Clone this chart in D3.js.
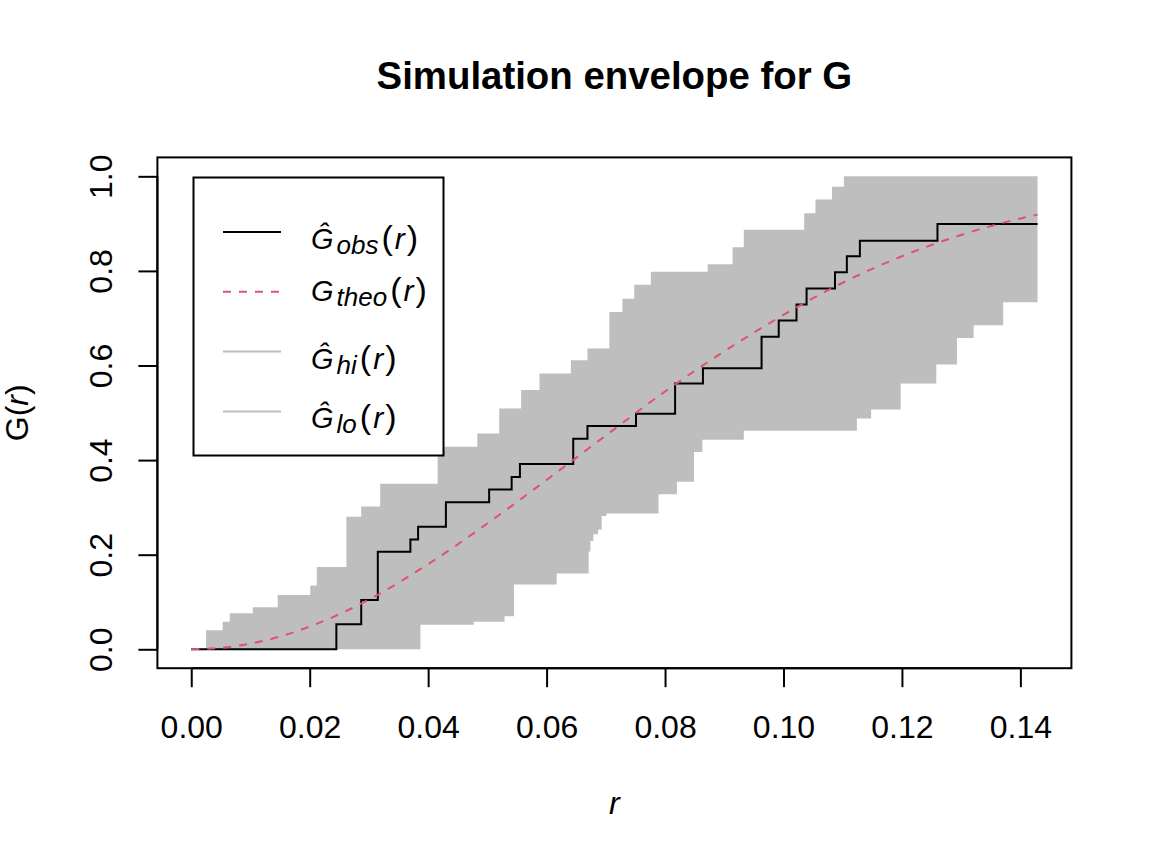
<!DOCTYPE html>
<html>
<head>
<meta charset="utf-8">
<script src="https://cdn.jsdelivr.net/npm/d3@7"></script>
<style>
  html, body { margin: 0; padding: 0; background: #ffffff; }
  svg { display: block; }
  text { font-family: "Liberation Sans", Arial, Helvetica, sans-serif; fill: #000; }
</style>
</head>
<body>
<svg id="chart" width="1152" height="864"></svg>
<script>
// ---------------- data ----------------
const rEnd = 0.1429;

// observed G (step function: value holds from r until next r)
const obsR = [0, 0.0245, 0.0287, 0.0315, 0.0370, 0.0383, 0.0430, 0.0503, 0.0541, 0.0555,
              0.0645, 0.0669, 0.0751, 0.0817, 0.0864, 0.0963, 0.0992, 0.1022, 0.1039,
              0.1087, 0.1107, 0.1129, 0.1260, rEnd];
const obsG = [0, 0.053, 0.104, 0.206, 0.232, 0.259, 0.311, 0.338, 0.364, 0.392,
              0.445, 0.472, 0.498, 0.562, 0.594, 0.661, 0.695, 0.729, 0.763,
              0.797, 0.831, 0.864, 0.899, 0.899];

// theoretical G
const theoR = [0, 0.005, 0.01, 0.015, 0.02, 0.03, 0.04, 0.05, 0.06, 0.07, 0.08, 0.09,
               0.10, 0.11, 0.12, 0.13, 0.14, rEnd];
const theoG = [0, 0.003, 0.012, 0.027, 0.048, 0.105, 0.180, 0.266, 0.358, 0.452, 0.545,
               0.630, 0.707, 0.775, 0.831, 0.876, 0.911, 0.919];

// upper envelope (hi)
const hiR = [0, 0.0025, 0.0053, 0.0065, 0.0104, 0.0146, 0.0201, 0.0212, 0.0262, 0.0287,
             0.0319, 0.0416, 0.0483, 0.0520, 0.0557, 0.0588, 0.0641, 0.0669, 0.0706,
             0.0728, 0.0748, 0.0776, 0.0872, 0.0914, 0.0933, 0.1035, 0.1054, 0.1082,
             0.1102, rEnd];
const hiG = [0, 0.040, 0.058, 0.076, 0.089, 0.115, 0.135, 0.174, 0.280, 0.302,
             0.350, 0.428, 0.456, 0.509, 0.548, 0.583, 0.611, 0.636, 0.713,
             0.741, 0.771, 0.798, 0.814, 0.850, 0.887, 0.922, 0.951, 0.978,
             1.0, 1.0];

// lower envelope (lo)
const loR = [0, 0.0387, 0.0477, 0.0529, 0.0545, 0.0617, 0.0671, 0.0674, 0.0679, 0.0687,
             0.0693, 0.0701, 0.0789, 0.0820, 0.0849, 0.0863, 0.0933, 0.1124, 0.1148,
             0.1198, 0.1258, 0.1293, 0.1321, 0.1371, rEnd];
const loG = [0, 0.052, 0.058, 0.070, 0.137, 0.160, 0.207, 0.229, 0.243, 0.253,
             0.282, 0.287, 0.328, 0.354, 0.417, 0.443, 0.462, 0.488, 0.507,
             0.562, 0.602, 0.658, 0.685, 0.734, 0.734];

const xTickVals = [0, 0.02, 0.04, 0.06, 0.08, 0.10, 0.12, 0.14];
const xTickLabels = ["0.00", "0.02", "0.04", "0.06", "0.08", "0.10", "0.12", "0.14"];
const yTickVals = [0, 0.2, 0.4, 0.6, 0.8, 1.0];
const yTickLabels = ["0.0", "0.2", "0.4", "0.6", "0.8", "1.0"];

const titleText = "Simulation envelope for G";
const legendSubs = ["obs", "theo", "hi", "lo"];
const legendHat = [true, false, true, true];

// ---------------- layout ----------------
const svg = d3.select("#chart");
const L = 157.4, R = 1071.4, T = 157.4, B = 668.2;
const xPad = 0.04 * rEnd;
const x = d3.scaleLinear().domain([-xPad, rEnd + xPad]).range([L, R]);
const y = d3.scaleLinear().domain([-0.04, 1.04]).range([B, T]);
const GREY = "#BEBEBE", RED = "#DF536B";

// envelope polygon on the union of breakpoints
function stepAt(rs, gs, r) {
  const i = Math.max(0, d3.bisectRight(rs, r) - 1);
  return gs[i];
}
const grid = Array.from(new Set(hiR.concat(loR))).sort((a, b) => a - b);
const env = grid.map(r => ({ r, lo: stepAt(loR, loG, r), hi: stepAt(hiR, hiG, r) }));

svg.append("path")
  .datum(env)
  .attr("d", d3.area().curve(d3.curveStepAfter)
    .x(d => x(d.r)).y0(d => y(d.lo)).y1(d => y(d.hi)))
  .attr("fill", GREY).attr("stroke", "none");

// observed line
const obsData = obsR.map((r, i) => ({ r, g: obsG[i] }));
svg.append("path")
  .datum(obsData)
  .attr("d", d3.line().curve(d3.curveStepAfter).x(d => x(d.r)).y(d => y(d.g)))
  .attr("fill", "none").attr("stroke", "#000").attr("stroke-width", 2);

// theoretical dashed line
const theoData = theoR.map((r, i) => ({ r, g: theoG[i] }));
svg.append("path")
  .datum(theoData)
  .attr("d", d3.line().curve(d3.curveMonotoneX).x(d => x(d.r)).y(d => y(d.g)))
  .attr("fill", "none").attr("stroke", RED).attr("stroke-width", 2)
  .attr("stroke-dasharray", "8,8");

// box
svg.append("rect")
  .attr("x", L).attr("y", T).attr("width", R - L).attr("height", B - T)
  .attr("fill", "none").attr("stroke", "#000").attr("stroke-width", 2);

// x axis
const xAxis = svg.append("g")
  .attr("transform", `translate(0,${B})`)
  .call(d3.axisBottom(x).tickValues(xTickVals)
    .tickFormat((d, i) => xTickLabels[i]).tickSize(19).tickSizeOuter(0).tickPadding(28));
xAxis.select(".domain").remove();
xAxis.append("line").attr("x1", x(0)).attr("x2", x(0.14)).attr("y1", 0).attr("y2", 0)
  .attr("stroke", "#000").attr("stroke-width", 2);
xAxis.selectAll(".tick line").attr("stroke", "#000").attr("stroke-width", 2);
xAxis.selectAll(".tick text")
  .attr("font-size", 32).attr("font-family", null)
  .attr("y", 19 + 28).attr("dy", "0.71em").attr("fill", "#000");

// y axis
const yAxis = svg.append("g")
  .attr("transform", `translate(${L},0)`)
  .call(d3.axisLeft(y).tickValues(yTickVals)
    .tickFormat((d, i) => yTickLabels[i]).tickSize(19).tickSizeOuter(0));
yAxis.select(".domain").remove();
yAxis.append("line").attr("x1", 0).attr("x2", 0).attr("y1", y(0)).attr("y2", y(1))
  .attr("stroke", "#000").attr("stroke-width", 2);
yAxis.selectAll(".tick line").attr("stroke", "#000").attr("stroke-width", 2);
yAxis.selectAll(".tick text")
  .attr("font-size", 32).attr("font-family", null).attr("fill", "#000")
  .attr("x", null).attr("dy", null)
  .attr("text-anchor", "middle")
  .attr("transform", `translate(${112 - L},0) rotate(-90)`);

// title
svg.append("text")
  .attr("x", (L + R) / 2).attr("y", 89)
  .attr("text-anchor", "middle").attr("font-size", 38.4).attr("font-weight", "bold")
  .text(titleText);

// x label
svg.append("text")
  .attr("x", (L + R) / 2).attr("y", 814)
  .attr("text-anchor", "middle").attr("font-size", 32).attr("font-style", "italic")
  .text("r");

// y label  G(r)
const yl = svg.append("text")
  .attr("transform", `translate(28,${(T + B) / 2}) rotate(-90)`)
  .attr("text-anchor", "middle").attr("font-size", 32);
yl.append("tspan").text("G(");
yl.append("tspan").attr("font-style", "italic").text("r");
yl.append("tspan").text(")");

// legend
const lg = svg.append("g");
lg.append("rect")
  .attr("x", 193.5).attr("y", 177.5).attr("width", 250).attr("height", 278)
  .attr("fill", "#fff").attr("stroke", "#000").attr("stroke-width", 2);
const legColors = ["#000", RED, GREY, GREY];
const legDash = [null, "8,8", null, null];
const rowY0 = 232, rowStep = 59.8;
legendSubs.forEach((sub, i) => {
  const cy = rowY0 + i * rowStep;
  lg.append("line")
    .attr("x1", 223).attr("x2", 281).attr("y1", cy).attr("y2", cy)
    .attr("stroke", legColors[i]).attr("stroke-width", 2)
    .attr("stroke-dasharray", legDash[i]);
  const base = cy + (legendHat[i] ? 17 : 9);
  const t = lg.append("text").attr("x", 311).attr("y", base).attr("font-size", 29);
  t.append("tspan").attr("font-style", "italic").text(legendHat[i] ? "\u011C" : "G");
  t.append("tspan").attr("font-style", "italic").attr("font-size", 26)
    .attr("dx", 3).attr("dy", 5).text(sub);
  t.append("tspan").attr("dy", -5).attr("dx", 3).attr("font-size", 34).text("(");
  t.append("tspan").attr("font-style", "italic").attr("font-size", 30).attr("dx", 2).text("r");
  t.append("tspan").attr("font-size", 34).attr("dx", 2).text(")");
});
</script>
</body>
</html>
